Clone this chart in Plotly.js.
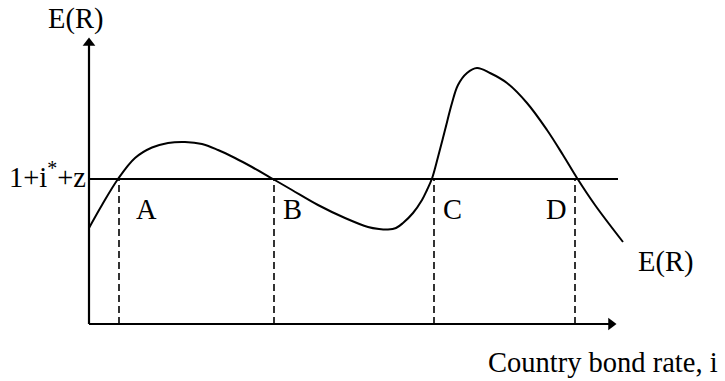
<!DOCTYPE html>
<html>
<head>
<meta charset="utf-8">
<script src="https://cdn.plot.ly/plotly-3.0.1.min.js"></script>
<style>html,body{margin:0;padding:0;background:#fff;}#chart{width:725px;height:381px;}</style>
</head>
<body>
<div id="chart"></div>
<script>
// Expected-return curve E(R) against the country bond rate (schematic units)
const curveX = [0, 13, 29, 46, 63, 79, 96, 113, 129, 146, 163, 184, 203, 229, 256, 279, 290, 299, 307, 314, 324, 333, 338, 343, 349, 356, 363, 369, 378, 388, 401, 418, 438, 458, 474, 488, 506, 534];
const curveY = [96, 119, 145, 166, 176.5, 181, 182, 180, 174, 166, 157, 145, 134, 119, 106, 97, 95, 94.5, 96, 101, 111, 124, 134, 145.5, 167, 194, 221, 239, 251, 256, 251, 241, 221, 194, 169, 146, 119, 82];
// Required return level 1+i*+z
const thresholdLevel = 145;
const thresholdEnd = 529;
// Crossing points
const crossLabels = ["A", "B", "C", "D"];
const crossX = [30, 185, 345, 486];
// Axis extents
const xAxisEnd = 528;
const yAxisEnd = 287;

const serif = "'Liberation Serif', 'Times New Roman', serif";
const black = '#000000';

const traces = [];
// axes
traces.push({x: [0, 0], y: [0, yAxisEnd - 8], mode: 'lines', line: {color: black, width: 2.2}, hoverinfo: 'skip'});
traces.push({x: [0, xAxisEnd - 8], y: [0, 0], mode: 'lines', line: {color: black, width: 2.2}, hoverinfo: 'skip'});
traces.push({x: [0], y: [yAxisEnd - 6], mode: 'markers', marker: {symbol: 'triangle-up', size: 11, color: black}, hoverinfo: 'skip'});
traces.push({x: [xAxisEnd - 6], y: [0], mode: 'markers', marker: {symbol: 'triangle-right', size: 11, color: black}, hoverinfo: 'skip'});
// threshold line
traces.push({x: [0, thresholdEnd], y: [thresholdLevel, thresholdLevel], mode: 'lines', line: {color: black, width: 1.8}, hoverinfo: 'skip'});
// dashed verticals
crossX.forEach(cx => {
  traces.push({x: [cx, cx], y: [0, thresholdLevel], mode: 'lines', line: {color: black, width: 1.6, dash: '7px,4px'}, hoverinfo: 'skip'});
});
// curve
traces.push({x: curveX, y: curveY, mode: 'lines', line: {color: black, width: 2, shape: 'spline', smoothing: 1}, hoverinfo: 'skip'});

const labelFont = {family: serif, size: 28.5, color: black};
const annotations = [
  {x: -14, y: 305, text: 'E(R)'},
  {x: -1, y: 149, text: '1+i<sup>*</sup>+z', xanchor: 'right'},
  {x: 576, y: 62, text: 'E(R)'},
  {x: 514, y: -38, text: 'Country bond rate, i'}
];
const labelOffsets = [27.5, 18, 18.5, -19];
crossLabels.forEach((lab, i) => {
  annotations.push({x: crossX[i] + labelOffsets[i], y: 115, text: lab});
});
annotations.forEach(a => {
  a.xref = 'x'; a.yref = 'y'; a.showarrow = false; a.font = labelFont;
  if (!a.xanchor) a.xanchor = 'center';
  a.yanchor = 'middle';
});

const layout = {
  width: 725, height: 381,
  margin: {l: 0, r: 0, t: 0, b: 0, pad: 0},
  paper_bgcolor: '#ffffff', plot_bgcolor: '#ffffff',
  showlegend: false,
  xaxis: {range: [-89, 636], visible: false, fixedrange: true},
  yaxis: {range: [-57, 324], visible: false, fixedrange: true},
  annotations: annotations
};

Plotly.newPlot('chart', traces, layout, {displayModeBar: false, staticPlot: true});
</script>
</body>
</html>
